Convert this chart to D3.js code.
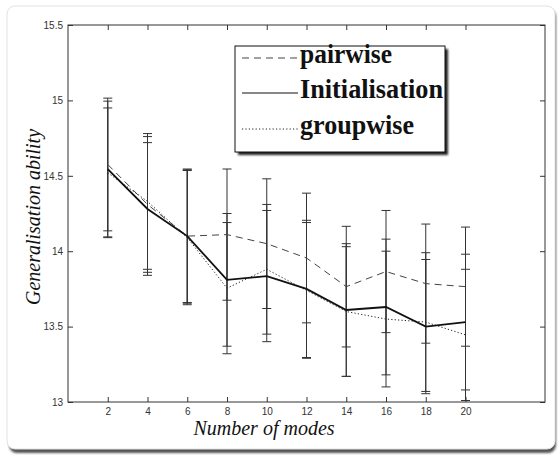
<!DOCTYPE html>
<html>
<head>
<meta charset="utf-8">
<script src="https://cdnjs.cloudflare.com/ajax/libs/d3/7.8.5/d3.min.js"></script>
<style>
  body { margin: 0; background: #fff; }
  .tick_label { font-family: 'Liberation Sans', Arial, sans-serif; font-size: 10px; fill: #333; }
  .axis_title { font-family: 'Liberation Serif', 'Times New Roman', serif; font-style: italic; font-size: 20px; fill: #111; }
  .legend_text { font-family: 'Liberation Serif', 'Times New Roman', serif; font-weight: bold; font-size: 27px; fill: #111; }
</style>
</head>
<body>
<div id="chart"></div>
<script>
// values
var modes = [2, 4, 6, 8, 10, 12, 14, 16, 18, 20];
var pairwise = [14.575, 14.31, 14.10, 14.11, 14.05, 13.955, 13.765, 13.865, 13.785, 13.765];
var pairwiseErr = [0.44, 0.45, 0.445, 0.435, 0.43, 0.43, 0.40, 0.405, 0.395, 0.395];
var initialisation = [14.545, 14.28, 14.10, 13.81, 13.835, 13.75, 13.61, 13.63, 13.50, 13.53];
var initialisationErr = [0.45, 0.44, 0.44, 0.44, 0.435, 0.455, 0.44, 0.45, 0.445, 0.45];
var groupwise = [14.52, 14.33, 14.09, 13.755, 13.88, 13.74, 13.60, 13.55, 13.53, 13.445];
var groupwiseErr = [0.43, 0.45, 0.445, 0.435, 0.43, 0.45, 0.43, 0.45, 0.46, 0.435];
var yTicks = [13, 13.5, 14, 14.5, 15, 15.5];
var legendNames = ['pairwise', 'Initialisation', 'groupwise'];

var W = 559, H = 456;
var plot = { left: 68, top: 25, right: 545, bottom: 402 };

var svg = d3.select('#chart').append('svg')
  .attr('width', W)
  .attr('height', H);

var defs = svg.append('defs');
defs.append('filter').attr('id', 'soft')
  .append('feGaussianBlur').attr('stdDeviation', 0.8);

// the card round the figure
svg.append('rect')
  .attr('x', 9).attr('y', 9)
  .attr('width', 547).attr('height', 444)
  .attr('rx', 8)
  .style('fill', '#555')
  .attr('filter', 'url(#soft)');
svg.append('rect')
  .attr('x', 7).attr('y', 6)
  .attr('width', 548).attr('height', 443)
  .attr('rx', 8)
  .style('fill', '#fff')
  .style('stroke', '#e2e2e2');

var x = d3.scaleLinear().domain([0, 24]).range([plot.left, plot.right]);
var y = d3.scaleLinear().domain([13, 15.5]).range([plot.bottom, plot.top]);

var g = svg.append('g');

// axes, MATLAB style: box + inward ticks
var axisBottom = d3.axisBottom(x).tickValues(modes).tickSize(-5).tickPadding(6).tickFormat(d3.format('d'));
var axisTop = d3.axisTop(x).tickValues(modes).tickSize(-5).tickFormat('');
var axisLeft = d3.axisLeft(y).tickValues(yTicks).tickSize(-5).tickPadding(5).tickFormat(d3.format('~g'));
var axisRight = d3.axisRight(y).tickValues(yTicks).tickSize(-5).tickFormat('');

function styleAxis(sel) {
  sel.select('.domain').remove();
  sel.selectAll('line').style('stroke', '#333');
  sel.selectAll('text').attr('class', 'tick_label').style('font-size', null).style('font-family', null);
}

g.append('g').attr('transform', 'translate(0,' + plot.bottom + ')').call(axisBottom).call(styleAxis);
g.append('g').attr('transform', 'translate(0,' + plot.top + ')').call(axisTop).call(styleAxis);
g.append('g').attr('transform', 'translate(' + plot.left + ',0)').call(axisLeft).call(styleAxis);
g.append('g').attr('transform', 'translate(' + plot.right + ',0)').call(axisRight).call(styleAxis);

g.append('rect')
  .attr('x', plot.left).attr('y', plot.top)
  .attr('width', plot.right - plot.left)
  .attr('height', plot.bottom - plot.top)
  .style('fill', 'none')
  .style('stroke', '#333');

var series = [
  { name: 'pairwise', mean: pairwise, err: pairwiseErr, width: 1, dash: '7,5', color: '#444' },
  { name: 'groupwise', mean: groupwise, err: groupwiseErr, width: 1, dash: '1.2,2.2', color: '#222' },
  { name: 'Initialisation', mean: initialisation, err: initialisationErr, width: 1.8, dash: null, color: '#111' }
];

// error bars
series.forEach(function (s) {
  var rows = modes.map(function (m, i) {
    return { x: m, lo: s.mean[i] - s.err[i], hi: s.mean[i] + s.err[i] };
  });
  var eb = g.append('g').attr('class', 'errbar').style('stroke', '#333').style('stroke-width', 1);
  eb.selectAll('.stem').data(rows).enter().append('line')
    .attr('x1', function (d) { return x(d.x); })
    .attr('x2', function (d) { return x(d.x); })
    .attr('y1', function (d) { return y(d.lo); })
    .attr('y2', function (d) { return y(d.hi); });
  ['lo', 'hi'].forEach(function (k) {
    eb.selectAll('.cap_' + k).data(rows).enter().append('line')
      .attr('x1', function (d) { return x(d.x) - 4.5; })
      .attr('x2', function (d) { return x(d.x) + 4.5; })
      .attr('y1', function (d) { return y(d[k]); })
      .attr('y2', function (d) { return y(d[k]); });
  });
});

// mean lines
var line = d3.line()
  .x(function (d) { return x(d[0]); })
  .y(function (d) { return y(d[1]); });

series.forEach(function (s) {
  g.append('path')
    .datum(modes.map(function (m, i) { return [m, s.mean[i]]; }))
    .attr('d', line)
    .style('fill', 'none')
    .style('stroke', s.color)
    .style('stroke-width', s.width)
    .style('stroke-dasharray', s.dash);
});

// axis titles
svg.append('text')
  .attr('class', 'axis_title')
  .attr('x', 264).attr('y', 435)
  .attr('text-anchor', 'middle')
  .text('Number of modes');

svg.append('text')
  .attr('class', 'axis_title')
  .attr('transform', 'translate(40,217) rotate(-90)')
  .attr('text-anchor', 'middle')
  .text('Generalisation ability');

// legend
var lg = svg.append('g');
lg.append('rect')
  .attr('x', 238).attr('y', 49)
  .attr('width', 210).attr('height', 106)
  .style('fill', '#222')
  .attr('filter', 'url(#soft)');
lg.append('rect')
  .attr('x', 235).attr('y', 46)
  .attr('width', 210).attr('height', 106)
  .style('fill', '#fff')
  .style('stroke', '#111');

var legendStyle = {
  pairwise: series[0], groupwise: series[1], Initialisation: series[2]
};
var legendY = [58, 93, 129];
var legendWidths = [92, 143, 114];

legendNames.forEach(function (name, i) {
  var s = legendStyle[name];
  lg.append('line')
    .attr('x1', 242).attr('x2', 298)
    .attr('y1', legendY[i]).attr('y2', legendY[i])
    .style('stroke', s.color)
    .style('stroke-width', 1)
    .style('stroke-dasharray', s.dash);
  lg.append('text')
    .attr('class', 'legend_text')
    .attr('x', 300)
    .attr('y', legendY[i] + 5)
    .attr('textLength', legendWidths[i])
    .attr('lengthAdjust', 'spacingAndGlyphs')
    .text(name);
});
</script>
</body>
</html>
